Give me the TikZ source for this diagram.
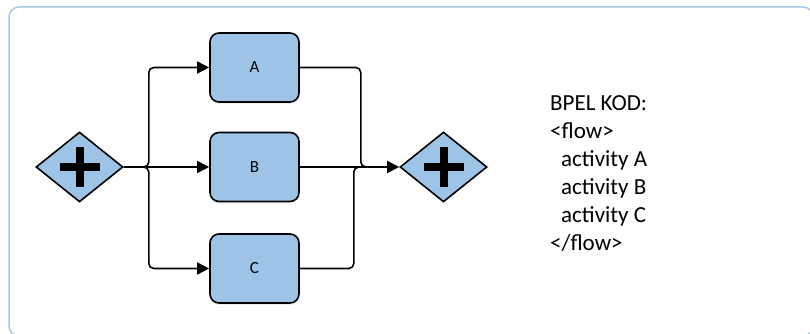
\documentclass[tikz,border=0pt]{standalone}
\usepackage{fontspec}
\setmainfont{Carlito}
\usetikzlibrary{shapes.geometric,arrows.meta,shadows}

\definecolor{taskblue}{RGB}{157,195,230}
\definecolor{frameblue}{RGB}{165,200,232}

\tikzset{
  task/.style={draw,line width=1.6pt,fill=taskblue,rounded corners=9pt,minimum width=89pt,minimum height=69pt,inner sep=0pt,font=\fontsize{17}{19}\selectfont,
    drop shadow={shadow xshift=0pt,shadow yshift=-2pt,fill=taskblue!45,opacity=.6}},
  gateway/.style={draw,line width=1.6pt,fill=taskblue,diamond,minimum width=87pt,minimum height=70pt,inner sep=0pt},
  flow/.style={line width=1.6pt,rounded corners=5pt},
  flowarrow/.style={flow,-{Triangle[length=12pt,width=12pt]}}
}

\begin{document}
\begin{tikzpicture}[x=1pt,y=1pt]
  \useasboundingbox (0,0) rectangle (810,334);
  \draw[frameblue,line width=1.5pt,rounded corners=10pt] (9,-2) rectangle (813,327);

  \node[gateway] (split) at (79.5,167) {};
  \node[task] (A) at (254.5,266.5) {A};
  \node[task] (B) at (254.5,167) {B};
  \node[task] (C) at (254.5,65.5) {C};
  \node[gateway] (join) at (443.5,167) {};
  \coordinate (merge) at (380,167);

  % plus signs
  \foreach \g in {split,join} {
    \draw[line width=8pt] ([xshift=-20pt]\g.center) -- ([xshift=20pt]\g.center);
    \draw[line width=8pt] ([yshift=-20pt]\g.center) -- ([yshift=20pt]\g.center);
  }

  \draw[flowarrow] (split.east) -- (B.west);
  \foreach \t in {A,C}
    \draw[flowarrow] (split.east) -- ++(25,0) |- (\t.west);

  \draw[flowarrow] (B.east) -- (join.west);
  \foreach \t/\dx in {A/61,C/54}
    \draw[flow] (\t.east) -- ++(\dx,0) |- (merge);

  \node[anchor=north west,align=left,inner sep=0pt,font=\fontsize{23}{28}\selectfont] (bpel) at (550,239)
    {BPEL KOD:\\
     <flow>\\
     \hspace*{11pt}activity A\\
     \hspace*{11pt}activity B\\
     \hspace*{11pt}activity C\\
     </flow>};
\end{tikzpicture}
\end{document}
